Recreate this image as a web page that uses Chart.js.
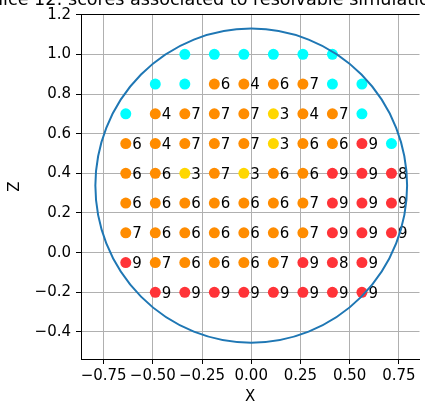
<!doctype html>
<html>
<head>
<meta charset="utf-8">
<title>scores</title>
<script src="https://cdn.jsdelivr.net/npm/chart.js@4.4.0/dist/chart.umd.min.js"></script>
<style>
  html, body { margin: 0; padding: 0; background: #fff; }
  #wrap { width: 425px; height: 407px; }
</style>
</head>
<body>
<div id="wrap"><canvas id="chart"></canvas></div>
<script>
// grid of simulation positions
var colsX = [-0.6375, -0.4875, -0.3375, -0.1875, -0.0375, 0.1125, 0.2625, 0.4125, 0.5625, 0.7125];
var rowsZ = [1.0, 0.85, 0.70, 0.55, 0.40, 0.25, 0.10, -0.05, -0.20];
// score per cell, 0 = not resolvable (cyan, no label), null = no point
var scores = [
  [null, null, 0, 0, 0, 0, 0, 0, null, null],
  [null, 0, 0, 6, 4, 6, 7, 0, 0, null],
  [0, 4, 7, 7, 7, 3, 4, 7, 0, null],
  [6, 4, 7, 7, 7, 3, 6, 6, 9, 0],
  [6, 6, 3, 7, 3, 6, 6, 9, 9, 8],
  [6, 6, 6, 6, 6, 6, 7, 9, 9, 9],
  [7, 6, 6, 6, 6, 6, 7, 9, 9, 9],
  [9, 7, 6, 6, 6, 7, 9, 8, 9, null],
  [null, 9, 9, 9, 9, 9, 9, 9, 9, null]
];
var xTicks = [-0.75, -0.5, -0.25, 0, 0.25, 0.5, 0.75];
var zTicks = [-0.4, -0.2, 0, 0.2, 0.4, 0.6, 0.8, 1.0, 1.2];
var circleCenter = [0, 0.338];
var circleRadius = 0.792;
var titlePrefix = 'Slice 12: ';
var titleText = 'scores associated to resolvable simulations';

var groups = { cyan: [], yellow: [], orange: [], red: [] };
for (var r = 0; r < rowsZ.length; r++) {
  for (var c = 0; c < colsX.length; c++) {
    var s = scores[r][c];
    if (s === null) continue;
    var p = { x: colsX[c], y: rowsZ[r], s: s };
    if (s === 0) groups.cyan.push(p);
    else if (s <= 3) groups.yellow.push(p);
    else if (s <= 7) groups.orange.push(p);
    else groups.red.push(p);
  }
}

function ds(pts, col) {
  return { data: pts, backgroundColor: col, borderWidth: 0, pointRadius: 5.5, pointHoverRadius: 5.5 };
}

function fmt(v, d) {
  var t = Math.abs(v) < 1e-9 ? (0).toFixed(d) : v.toFixed(d);
  return t.replace('-', '\u2212');
}

var extras = {
  id: 'extras',
  afterDatasetsDraw: function (chart) {
    var ctx = chart.ctx, xs = chart.scales.x, ys = chart.scales.y, a = chart.chartArea;
    ctx.save();
    // score labels
    ctx.fillStyle = '#000';
    ctx.font = '15px "DejaVu Sans"';
    ctx.textAlign = 'left';
    ctx.textBaseline = 'alphabetic';
    for (var r = 0; r < rowsZ.length; r++) {
      for (var c = 0; c < colsX.length; c++) {
        var s = scores[r][c];
        if (!s) continue;
        ctx.fillText(String(s), xs.getPixelForValue(colsX[c]) + 6.5, ys.getPixelForValue(rowsZ[r]) + 5.3);
      }
    }
    // circle
    var cx = xs.getPixelForValue(circleCenter[0]), cy = ys.getPixelForValue(circleCenter[1]);
    var rx = Math.abs(xs.getPixelForValue(circleRadius) - xs.getPixelForValue(0));
    var ry = Math.abs(ys.getPixelForValue(circleRadius) - ys.getPixelForValue(0));
    ctx.beginPath();
    ctx.rect(a.left, a.top, a.right - a.left, a.bottom - a.top);
    ctx.clip();
    ctx.beginPath();
    ctx.ellipse(cx, cy, rx, ry, 0, 0, Math.PI * 2);
    ctx.strokeStyle = '#1f77b4';
    ctx.lineWidth = 2;
    ctx.stroke();
    ctx.restore();
    // top spine
    ctx.save();
    ctx.strokeStyle = '#000';
    ctx.lineWidth = 1;
    ctx.beginPath();
    ctx.moveTo(a.left, a.top + 0.5);
    ctx.lineTo(a.right, a.top + 0.5);
    ctx.stroke();
    // title, mostly cut off at top
    ctx.fillStyle = '#000';
    ctx.font = '17.6px "DejaVu Sans"';
    ctx.textAlign = 'left';
    var tx = 68 - ctx.measureText(titlePrefix).width;
    ctx.fillText(titlePrefix + titleText, tx, 5);
    ctx.restore();
  }
};

var tickFont = { family: 'DejaVu Sans', size: 15 };

new Chart(document.getElementById('chart').getContext('2d'), {
  type: 'scatter',
  data: {
    datasets: [
      ds(groups.cyan, '#00ffff'),
      ds(groups.orange, '#ff8c00'),
      ds(groups.yellow, '#ffd700'),
      ds(groups.red, '#ff3338')
    ]
  },
  options: {
    responsive: true,
    maintainAspectRatio: false,
    animation: false,
    layout: { padding: { top: 11, right: 0, left: 0, bottom: 0 } },
    plugins: { legend: { display: false }, tooltip: { enabled: false } },
    scales: {
      x: {
        type: 'linear',
        min: -0.865,
        max: 0.855,
        afterFit: function (s) { s.height = 48; },
        afterBuildTicks: function (s) { s.ticks = xTicks.map(function (v) { return { value: v }; }); },
        ticks: { callback: function (v) { return fmt(v, 2); }, color: '#000', font: tickFont, padding: 3, maxRotation: 0, autoSkip: false },
        grid: { color: '#b0b0b0', lineWidth: 1, tickColor: '#000', tickLength: 5, tickWidth: 1 },
        border: { color: '#000', width: 1 },
        title: { display: true, text: 'X', color: '#000', font: tickFont, padding: { bottom: 1, top: 0 } }
      },
      y: {
        type: 'linear',
        min: -0.5365,
        max: 1.2035,
        afterFit: function (s) { s.width = 81; },
        afterBuildTicks: function (s) { s.ticks = zTicks.map(function (v) { return { value: v }; }); },
        ticks: { callback: function (v) { return fmt(v, 1); }, color: '#000', font: tickFont, padding: 5, autoSkip: false },
        grid: { color: '#b0b0b0', lineWidth: 1, tickColor: '#000', tickLength: 5, tickWidth: 1 },
        border: { color: '#000', width: 1 },
        title: { display: true, text: 'Z', color: '#000', font: tickFont, padding: { top: 6, bottom: 0 } }
      }
    }
  },
  plugins: [extras]
});
</script>
</body>
</html>
